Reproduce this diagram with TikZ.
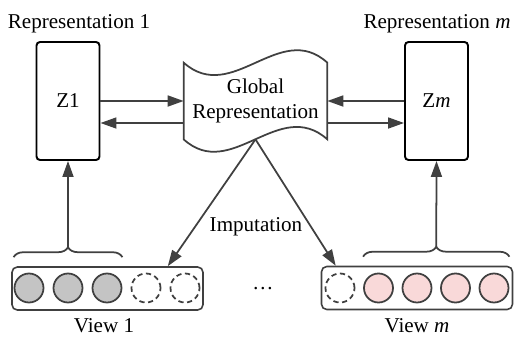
\documentclass[tikz,border=0pt]{standalone}
\usepackage{fontspec}
\setmainfont{Liberation Serif}
\newfontfamily\timesfont{Liberation Serif}
\usetikzlibrary{arrows.meta}
\usetikzlibrary{calc}
\usetikzlibrary{decorations.pathreplacing}
\definecolor{linegray}{HTML}{404040}
\definecolor{dotgray}{HTML}{C4C4C4}
\definecolor{dotpink}{HTML}{F9D9D9}

\begin{document}
\begin{tikzpicture}
  [x=.2mm,y=.2mm,font=\timesfont\fontsize{12}{14}\selectfont,
   box/.style={draw=black,line width=1.1pt,rounded corners=2pt,minimum width=12.6mm,minimum height=23.6mm},
   view/.style={draw=linegray,line width=.9pt,rounded corners=3pt,minimum width=38.2mm,minimum height=8.6mm},
   full/.style={circle,draw=linegray,line width=1pt,minimum size=5.8mm,inner sep=0pt},
   grey/.style={full,fill=dotgray},
   pink/.style={full,fill=dotpink},
   empty/.style={full,dashed,dash pattern=on 3pt off 2pt},
   arr/.style={draw=linegray,line width=1pt,-{Triangle[length=3.2mm,width=2.2mm]}},
   brc/.style={draw=linegray,line width=1pt,decorate,decoration={brace,amplitude=2mm}}]
  \useasboundingbox (0,0) rectangle (514,339);

  % representations
  \node (z1)[box] at (68,238) {Z1};
  \node (zm)[box] at (436.5,238) {Z\textit{m}};
  \node (r1) at (79,315) {Representation 1};
  \node (rm) at (437,315) {Representation \textit{m}};

  % global representation, wavy outline
  \node (glob)[minimum width=28.6mm,minimum height=15.2mm,inner sep=0pt,align=center] at (255.5,238) {Global\\Representation};
  \draw[linegray,line width=1pt] (glob.north west) -- (glob.south west)
    .. controls ([shift={(47.7,-43)}]glob.south west) and ([shift={(95.3,43)}]glob.south west) .. (glob.south east)
    -- (glob.north east)
    .. controls ([shift={(-47.7,43)}]glob.north east) and ([shift={(-95.3,-43)}]glob.north east) .. (glob.north west) -- cycle;

  \draw[arr] (z1.east) -- (z1.east -| glob.west);
  \draw[arr] ([yshift=-4.4mm]glob.west) -- ([yshift=-4.4mm]glob.west -| z1.east);
  \draw[arr] (zm.west) -- (zm.west -| glob.east);
  \draw[arr] ([yshift=-4.4mm]glob.east) -- ([yshift=-4.4mm]glob.east -| zm.west);

  % views
  \node (v1)[view] at (107.5,50.5) {};
  \node (vm)[view] at (417,51) {};
  \foreach \i/\s in {1/grey,2/grey,3/grey,4/empty,5/empty}
    \node (v1c\i)[\s] at ({29+39*(\i-1)},51) {};
  \foreach \i/\s in {1/empty,2/pink,3/pink,4/pink,5/pink}
    \node (vmc\i)[\s] at ({340+38.5*(\i-1)},51) {};
  \node (l1) at (104,13) {View 1};
  \node (lm) at (417,13) {View \textit{m}};
  \node (dots) at (263,50) {\dots};

  % braces up to the representations
  \draw[brc] ($(v1c1.west |- v1.north)+(0,9)$) -- ($(v1c3.east |- v1.north)+(0,9)$);
  \coordinate (b1) at ($(v1c1.west |- v1.north)!.5!(v1c3.east |- v1.north)+(0,19)$);
  \draw[brc] ($(vmc2.west |- vm.north)+(0,9)$) -- ($(vmc5.east |- vm.north)+(0,9)$);
  \coordinate (bm) at ($(vmc2.west |- vm.north)!.5!(vmc5.east |- vm.north)+(0,19)$);
  \draw[arr] (b1) -- (z1.south);
  \draw[arr] (bm) -- (zm.south);

  % imputation
  \draw[arr] (glob.south) -- ([xshift=-7.2mm]v1.north east);
  \draw[arr] (glob.south) -- ([xshift=3mm]vm.north west);
  \node (imp) at (256,112) {Imputation};
\end{tikzpicture}
\end{document}
